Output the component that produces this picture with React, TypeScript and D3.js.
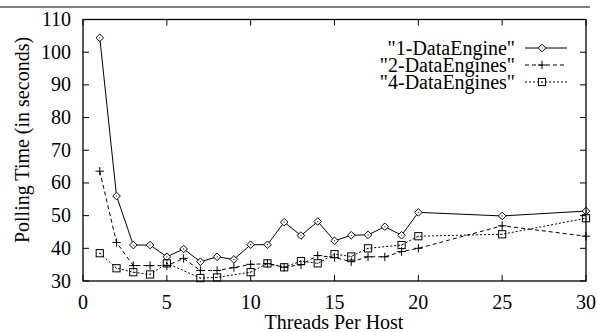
import React from "react";
import * as d3 from "d3";

const threadsAll = [1, 2, 3, 4, 5, 6, 7, 8, 9, 10, 11, 12, 13, 14, 15, 16, 17, 18, 19, 20, 25, 30];
const engine1 = [104.4, 56, 41, 41, 37.4, 39.8, 35.9, 37.4, 36.6, 41.1, 41.1, 48, 43.9, 48.2, 42.3, 44, 44.1, 46.6, 44, 51, 49.9, 51.4];
const engine2 = [63.6, 41.8, 34.7, 34.7, 34.7, 36.9, 33.2, 33.2, 34.1, 35.1, 35.3, 34.2, 35, 37.8, 37.2, 35.9, 37.4, 37.4, 39, 40, 46.9, 43.7];
const threads4 = [1, 2, 3, 4, 5, 7, 8, 10, 11, 12, 13, 14, 15, 16, 17, 19, 20, 25, 30];
const engine4 = [38.5, 33.9, 32.7, 32, 35.4, 30.9, 31.1, 32.7, 35.4, 34.2, 36.1, 35.4, 38.2, 37.5, 40, 41, 43.7, 44.3, 49.2];

const xTicks = [0, 5, 10, 15, 20, 25, 30];
const yTicks = [30, 40, 50, 60, 70, 80, 90, 100, 110];
const seriesNames = ['"1-DataEngine"', '"2-DataEngines"', '"4-DataEngines"'];

const W = 597, H = 332;
const L = 83, R = 586, T = 19.5, B = 281;
const FONT = "'Liberation Serif', 'Times New Roman', serif";

function Marker({ type, x, y }: { type: string; x: number; y: number }) {
  if (type === "diamond") {
    const s = 3.8;
    return (
      <g>
        <path d={`M${x},${y - s}L${x + s},${y}L${x},${y + s}L${x - s},${y}Z`} fill="white" stroke="#000" strokeWidth={1} />
        <circle cx={x} cy={y} r={0.6} fill="#000" />
      </g>
    );
  }
  if (type === "plus") {
    const s = 4.2;
    return (
      <path d={`M${x - s},${y}H${x + s}M${x},${y - s}V${y + s}`} stroke="#000" strokeWidth={1} fill="none" />
    );
  }
  const s = 3.6;
  return (
    <g>
      <rect x={x - s} y={y - s} width={2 * s} height={2 * s} fill="none" stroke="#000" strokeWidth={1} />
      <circle cx={x} cy={y} r={0.6} fill="#000" />
    </g>
  );
}

export default function App() {
  const x = d3.scaleLinear().domain([0, 30]).range([L, R]);
  const y = d3.scaleLinear().domain([30, 110]).range([B, T]);
  const line = d3
    .line<[number, number]>()
    .x((d) => x(d[0]))
    .y((d) => y(d[1]));

  const series = [
    { xs: threadsAll, ys: engine1, dash: undefined as string | undefined, marker: "diamond" },
    { xs: threadsAll, ys: engine2, dash: "4,3", marker: "plus" },
    { xs: threads4, ys: engine4, dash: "2,2", marker: "square" },
  ];

  const tickLen = 6;

  return (
    <svg width={W} height={H} style={{ position: "absolute", left: 0, top: 0, background: "#fff" }}>
      <line x1={0} x2={590} y1={7} y2={7} stroke="#000" strokeWidth={1} />
      {/* ticks */}
      {xTicks.map((t) => (
        <g key={"xt" + t}>
          <line x1={x(t)} x2={x(t)} y1={B} y2={B - tickLen} stroke="#000" />
          <line x1={x(t)} x2={x(t)} y1={T} y2={T + tickLen} stroke="#000" />
          <text x={x(t)} y={309} textAnchor="middle" fontFamily={FONT} fontSize={20}>
            {t}
          </text>
        </g>
      ))}
      {yTicks.map((t) => (
        <g key={"yt" + t}>
          <line x1={L} x2={L + tickLen} y1={y(t)} y2={y(t)} stroke="#000" />
          <line x1={R} x2={R - tickLen} y1={y(t)} y2={y(t)} stroke="#000" />
          <text x={71} y={y(t) + 6.5} textAnchor="end" fontFamily={FONT} fontSize={20}>
            {t}
          </text>
        </g>
      ))}
      {series.map((s, i) => {
        const pts = s.xs.map((v, j) => [v, s.ys[j]] as [number, number]);
        return (
          <g key={"s" + i}>
            <path d={line(pts) || ""} fill="none" stroke="#000" strokeWidth={1} strokeDasharray={s.dash} />
            {pts.map((p, j) => (
              <Marker key={j} type={s.marker} x={x(p[0])} y={y(p[1])} />
            ))}
          </g>
        );
      })}
      <rect x={L} y={T} width={R - L} height={B - T} fill="none" stroke="#000" strokeWidth={1.3} />
      {/* legend */}
      {seriesNames.map((n, i) => {
        const ly = 48 + i * 17;
        return (
          <g key={"lg" + i}>
            <text x={515} y={ly + 6.5} textAnchor="end" fontFamily={FONT} fontSize={20}>
              {n}
            </text>
            <line x1={525} x2={567} y1={ly} y2={ly} stroke="#000" strokeWidth={1} strokeDasharray={series[i].dash} />
            <Marker type={series[i].marker} x={542} y={ly} />
          </g>
        );
      })}
      <text x={334} y={329} textAnchor="middle" fontFamily={FONT} fontSize={20}>
        Threads Per Host
      </text>
      <text
        transform={`translate(29,140) rotate(-90)`}
        textAnchor="middle"
        fontFamily={FONT}
        fontSize={20}
      >
        Polling Time (in seconds)
      </text>
    </svg>
  );
}
